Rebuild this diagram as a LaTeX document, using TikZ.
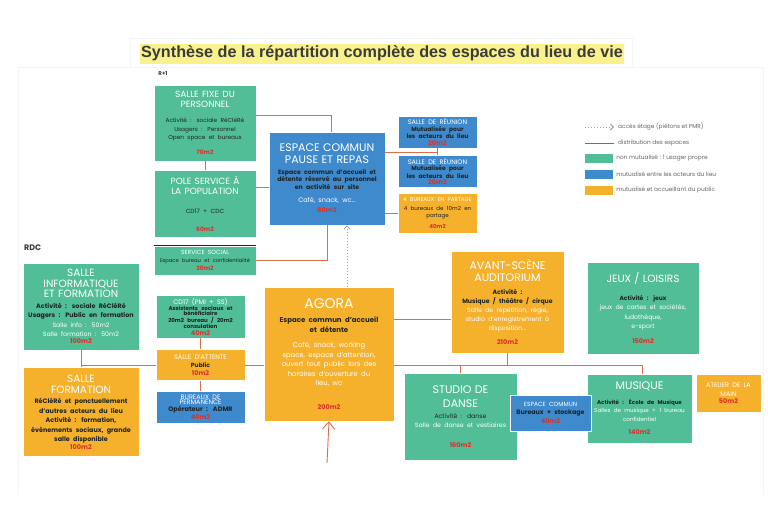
\documentclass[tikz,border=0pt]{standalone}
\usepackage{fontspec}
\setmainfont{Poppins}
\newfontfamily\titrefont{Liberation Sans}
\usetikzlibrary{positioning, arrows.meta}

\definecolor{vert}{HTML}{52BE98}
\definecolor{bleu}{HTML}{3F8ACD}
\definecolor{orange}{HTML}{F5B12B}
\definecolor{surface}{HTML}{D8322A}
\definecolor{encre}{HTML}{1E2424}
\definecolor{brique}{HTML}{DC6E50}
\definecolor{surligne}{HTML}{F9F18C}
\definecolor{gristitre}{HTML}{3B3B3B}

% textes des pieces
\newcommand{\nom}[3]{{\fontsize{#1}{#2}\selectfont\color{white}#3\par}}
\newcommand{\corps}[3]{{\fontsize{#1}{#2}\selectfont #3\par}}
\newcommand{\corpsgras}[3]{{\fontsize{#1}{#2}\selectfont\bfseries #3\par}}
\newcommand{\blanc}[3]{{\fontsize{#1}{#2}\selectfont\color{white}#3\par}}
\newcommand{\surf}[2][6.5]{{\fontsize{#1}{#1}\selectfont\bfseries\color{surface}#2\par}}

\begin{document}
\begin{tikzpicture}[
        x=1pt, y=-1pt,
        node distance=8pt,
        piece/.style={
            rectangle,
            draw=white,
            line width=0.5pt,
            align=center,
            inner sep=3pt,
            text=encre
        },
        prive/.style={piece, fill=vert},
        acteurs/.style={piece, fill=bleu},
        public/.style={piece, fill=orange},
        lien/.style={draw=brique, line width=0.9pt},
        acces/.style={draw=gray!70, dotted, line width=1pt, -{Straight Barb[length=3pt,width=6pt]}},
        fleche/.style={lien, -{Straight Barb[length=7pt,width=12pt]}},
        legende/.style={inner sep=0pt, font=\fontsize{5.8}{6}\selectfont, text=gray!80!black},
        carre/.style={rectangle, minimum width=28pt, minimum height=9pt, inner sep=0pt},
        niveau/.style={inner sep=0pt, text=gristitre, font=\bfseries}
    ]

    \path[fill=white, use as bounding box] (0,0) rectangle (768,512);
    \draw[gray!8, line width=0.6pt] (130,38) rectangle (632,67);
    \draw[gray!8, line width=0.6pt] (18,495) -- (18,67) -- (763,67) -- (763,495);

    % Titre
    \node (titre) [fill=surligne, text=gristitre, inner xsep=1pt, inner ysep=2pt, minimum height=20pt,
        font={\titrefont\bfseries\fontsize{16.2}{16.2}\selectfont}] at (382,53.5)
        {Synthèse de la répartition complète des espaces du lieu de vie};

    \node (etage) [niveau, font=\bfseries\fontsize{5.5}{6}\selectfont] at (163,73) {R+1};
    \node (rdc) [niveau, anchor=west, font=\bfseries\fontsize{8}{8}\selectfont] at (24,248) {RDC};

    % R+1
    \node (fixe) [prive, text width=96pt, minimum height=76pt] at (205,123) {
        \nom{9}{9.5}{SALLE FIXE DU\\PERSONNEL}\vspace{7pt}
        \corps{5.8}{8.5}{Activité : sociale RéCléRé\\Usagers : Personnel\\Open space et bureaux}\vspace{9pt}
        \surf[6]{70m2}};
    \node (pole) [prive, below=9pt of fixe, text width=96pt, minimum height=67pt] {
        \nom{9}{10}{POLE SERVICE À\\LA POPULATION}\vspace{12pt}
        \corps{6}{7}{CD17 + CDC}\vspace{12pt}
        \surf[6]{60m2}};
    \node (social) [prive, below=8pt of pole, text width=96pt, minimum height=29pt] {
        \blanc{6}{6}{SERVICE SOCIAL}\vspace{2pt}
        \corps{5.2}{6}{Espace bureau et confidentialité}\vspace{2pt}
        \surf[6]{30m2}};
    \draw[encre, line width=0.8pt] (social.north west) -- (social.north east);

    \node (pause) [acteurs, text width=110pt, minimum height=93pt] at (327,178.5) {
        \nom{11}{12}{ESPACE COMMUN\\PAUSE ET REPAS}\vspace{3pt}
        \corpsgras{6.2}{7.5}{Espace commun d’accueil et\\détente réservé au personnel\\en activité sur site}\vspace{5pt}
        \blanc{6.5}{8}{Café, snack, wc...}\vspace{4pt}
        \surf{80m2}};

    \node (reunionA) [acteurs, text width=73pt, minimum height=32pt] at (437.5,132) {
        \blanc{6.5}{6.5}{SALLE DE RÉUNION}
        \corpsgras{6}{6.2}{Mutualisée pour\\les acteurs du lieu}
        \surf{20m2}};
    \node (reunionB) [acteurs, below=7pt of reunionA, text width=73pt, minimum height=32pt] {
        \blanc{6.5}{6.5}{SALLE DE RÉUNION}
        \corpsgras{6}{6.2}{Mutualisée pour\\les acteurs du lieu}
        \surf{20m2}};
    \node (bureaux4) [public, below=5pt of reunionB, text width=73pt, minimum height=40pt] {
        \blanc{5.5}{6}{4 BUREAUX EN PARTAGE}\vspace{2pt}
        \corps{5.5}{7}{4 bureaux de 10m2 en\\partage}\vspace{4pt}
        \surf[5.5]{40m2}};

    % RDC
    \node (info) [prive, text width=110pt, minimum height=87pt] at (81,306.5) {
        \nom{10.5}{10.5}{SALLE\\INFORMATIQUE\\ET FORMATION}\vspace{1pt}
        \corpsgras{6.4}{9.5}{Activité : sociale RéCléRé\\Usagers : Public en formation}
        \blanc{6.2}{9.5}{Salle info : 50m2\\Salle formation : 50m2}
        \surf{100m2}};
    \node (formation) [public, below=17pt of info, text width=110pt, minimum height=89pt] {
        \nom{10.5}{11}{SALLE\\FORMATION}\vspace{1pt}
        \corpsgras{6.4}{9.5}{RéCléRé et ponctuellement\\d’autres acteurs du lieu\\Activité : formation,\\évènements sociaux, grande\\salle disponible}
        \surf{100m2}};

    \node (cd17) [prive, text width=83pt, minimum height=41pt] at (200.5,316.5) {
        \blanc{6.5}{6.5}{CD17 (PMI + SS)}
        \corpsgras{5.5}{5.2}{Assistents sociaux et\\bénéficiaire\\20m2 bureau / 20m2\\consulation}
        \surf{40m2}};
    \node (attente) [public, below=11pt of cd17, text width=83pt, minimum height=31pt] {
        \blanc{6.5}{7}{SALLE D’ATTENTE}\vspace{1.5pt}
        \corpsgras{6}{7}{Public}\vspace{1.5pt}
        \surf{10m2}};
    \node (permanence) [acteurs, below=10pt of attente, text width=83pt, minimum height=32pt] {
        \blanc{6.5}{5.5}{BUREAUX DE\\PERMANENCE}
        \corpsgras{6.5}{7}{Opérateur : ADMR}
        \surf{40m2}};

    \node (agora) [public, text width=124pt, minimum height=134pt] at (329,354) {
        \nom{14}{14}{AGORA}\vspace{5pt}
        \corpsgras{7}{9.5}{Espace commun d’accueil\\et détente}\vspace{6pt}
        \blanc{6.8}{9.5}{Café, snack, working\\space, espace d’attention,\\ouvert tout public lors des\\horaires d’ouverture du\\lieu, wc}\vspace{17pt}
        \surf{200m2}};

    \node (avant) [public, text width=107pt, minimum height=102pt] at (507.5,302) {
        \nom{11}{12}{AVANT-SCÈNE\\AUDITORIUM}\vspace{4pt}
        \corpsgras{6.2}{9}{Activité :\\Musique / théâtre / cirque}
        \blanc{6.2}{9}{Salle de répétition, régie,\\studio d’enregistrement à\\disposition...}\vspace{8pt}
        \surf{210m2}};

    \node (jeux) [prive, text width=106pt, minimum height=92pt] at (643,308) {
        \nom{10.5}{10.5}{JEUX / LOISIRS}\vspace{8pt}
        \corpsgras{6}{9.5}{Activité : jeux}
        \blanc{6.2}{9.5}{jeux de cartes et sociétés,\\ludothèque,\\e-sport}\vspace{8pt}
        \surf{150m2}};

    \node (studio) [prive, text width=107pt, minimum height=87pt] at (460.5,416.5) {
        \nom{11}{14}{STUDIO DE\\DANSE}\vspace{2pt}
        \corps{6.2}{9}{Activité : danse}
        \blanc{6.2}{9}{Salle de danse et vestiaires}\vspace{14pt}
        \surf{160m2}};

    \node (musique) [prive, text width=99pt, minimum height=69pt] at (639.5,408.5) {
        \nom{11}{11}{MUSIQUE}\vspace{6pt}
        \corpsgras{5.5}{8.5}{Activité : École de Musique}
        \blanc{5.6}{8.5}{Salles de musique + 1 bureau\\confidentiel}\vspace{7pt}
        \surf{140m2}};

    \node (commun) [acteurs, text width=75pt, minimum height=36pt] at (550.5,413) {
        \blanc{6}{7}{ESPACE COMMUN}\vspace{1pt}
        \corpsgras{6.3}{7}{Bureaux + stockage}\vspace{1pt}
        \surf{40m2}};

    \node (atelier) [public, text width=59pt, minimum height=38pt] at (728.5,393) {
        \blanc{6.5}{9.5}{ATELIER DE LA\\MAIN}
        \surf{50m2}};

    % Liens R+1
    \draw[lien] ([yshift=8pt]fixe.east) -| ([xshift=4pt]pause.north);
    \draw[lien] (fixe.south) -- (pole.north);
    \draw[lien] (pole.east |- 0,187) -- (pause.west |- 0,187);
    \draw[lien] (social.east) -| (pause.south);
    \draw[lien] (pause.east |- 0,152) -- (reunionA.south |- 0,152);
    \draw[lien] (reunionA.south) -- (reunionB.north);
    \draw[lien] (pause.east |- bureaux4.west) -- (bureaux4.west);
    \draw[acces] ([xshift=18pt]agora.north) -- ([xshift=18pt]agora.north |- pause.south);

    % Liens RDC
    \draw[lien] (info.south) -- (formation.north);
    \draw[lien] (info.south |- attente.west) -- (attente.west);
    \draw[lien] (cd17.south) -- (attente.north);
    \draw[lien] (attente.south) -- (permanence.north);
    \draw[lien] (attente.east) -- (agora.west |- attente.east);
    \draw[lien] (agora.east |- 0,319) -- (avant.west |- 0,319);
    \draw[lien] (agora.east |- 0,365) -| ([xshift=3pt]musique.north);
    \draw[lien] (avant.south) -- (avant.south |- 0,365);
    \draw[lien] (studio.north |- 0,365) -- (studio.north);
    \coordinate (entree) at (327,463);
    \draw[fleche] (entree) -- (agora.south);

    % Legende
    \coordinate (accesA) at (585,127);
    \coordinate (accesB) at (614,127);
    \draw[acces] (accesA) -- (accesB);
    \node (legacces) [legende, right=4pt of accesB] {accès étage (piétons et PMR)};
    \coordinate (distA) at (585,143);
    \coordinate (distB) at (614,143);
    \draw[draw=brique!80!black, line width=1pt] (distA) -- (distB);
    \node (legdist) [legende, right=4pt of distB] {distribution des espaces};
    \node (carrevert) [carre, fill=vert] at (599,158.5) {};
    \node (legvert) [legende, right=3pt of carrevert] {non mutualisé : 1 usager propre};
    \node (carrebleu) [carre, fill=bleu] at (599,174.5) {};
    \node (legbleu) [legende, right=3pt of carrebleu] {mutualisé entre les acteurs du lieu};
    \node (carreorange) [carre, fill=orange] at (599,190) {};
    \node (legorange) [legende, right=3pt of carreorange] {mutualisé et accueillant du public};

\end{tikzpicture}
\end{document}
